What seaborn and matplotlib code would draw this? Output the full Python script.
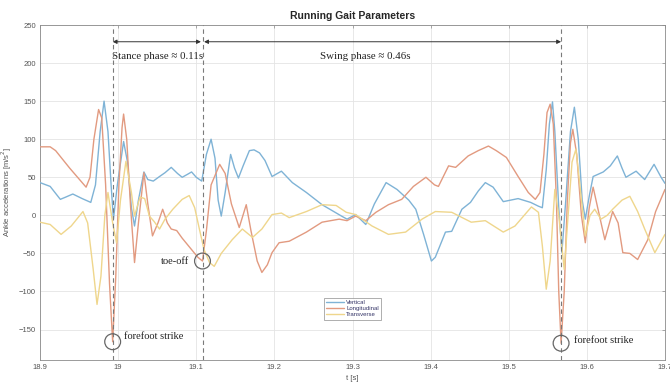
import numpy as np
import pandas as pd
import matplotlib
matplotlib.use("Agg")
import matplotlib.pyplot as plt
import seaborn as sns

# ---- ankle acceleration traces (time in s, acceleration in m/s^2) ----
t_vertical = [18.900, 18.913, 18.926, 18.933, 18.942, 18.954, 18.965, 18.971, 18.977, 18.982,
              18.987, 18.991, 18.994, 18.999, 19.007, 19.012, 19.017, 19.021, 19.026, 19.033,
              19.038, 19.045, 19.053, 19.060, 19.068, 19.076, 19.082, 19.089, 19.094, 19.100,
              19.107, 19.113, 19.119, 19.124, 19.128, 19.132, 19.137, 19.144, 19.149, 19.154,
              19.160, 19.168, 19.174, 19.181, 19.188, 19.197, 19.209, 19.223, 19.241, 19.261,
              19.286, 19.293, 19.304, 19.317, 19.328, 19.343, 19.357, 19.372, 19.381, 19.391,
              19.401, 19.406, 19.419, 19.427, 19.440, 19.451, 19.461, 19.470, 19.480, 19.493,
              19.512, 19.528, 19.538, 19.543, 19.548, 19.552, 19.556, 19.559, 19.564, 19.568,
              19.573, 19.579, 19.584, 19.589, 19.594, 19.598, 19.603, 19.608, 19.621, 19.630,
              19.639, 19.645, 19.650, 19.663, 19.674, 19.686, 19.695, 19.700]
a_vertical = [43, 38, 21, 24, 28, 22, 17, 40, 110, 150,
              110, 40, -5, 40, 97, 70, 10, -14, 20, 57,
              47, 45, 51, 56, 63, 55, 50, 54, 57, 50,
              45, 80, 100, 75, 20, -1, 30, 80, 62, 49,
              65, 85, 86, 82, 72, 51, 58, 43, 30, 14,
              -1, -5, 1, -12, 15, 43, 34, 20, 8, -25,
              -60, -55, -22, -21, 8, 17, 32, 43, 37, 18,
              22, 17, 12, 10, 60, 120, 149, 110, 10, -49,
              20, 110, 142, 100, 20, -5, 25, 51, 57, 65,
              78, 62, 50, 58, 47, 67, 50, 42]

t_longitudinal = [18.900, 18.913, 18.920, 18.938, 18.959, 18.964, 18.969, 18.975, 18.979, 18.984,
                  18.989, 18.993, 18.997, 19.001, 19.005, 19.007, 19.011, 19.016, 19.021, 19.026,
                  19.033, 19.038, 19.044, 19.051, 19.057, 19.063, 19.068, 19.075, 19.082, 19.094,
                  19.102, 19.108, 19.113, 19.119, 19.130, 19.137, 19.145, 19.155, 19.164, 19.170,
                  19.178, 19.184, 19.191, 19.197, 19.206, 19.219, 19.241, 19.261, 19.283, 19.293,
                  19.304, 19.317, 19.330, 19.346, 19.363, 19.378, 19.394, 19.405, 19.410, 19.423,
                  19.432, 19.448, 19.461, 19.474, 19.484, 19.497, 19.512, 19.525, 19.534, 19.540,
                  19.545, 19.549, 19.553, 19.557, 19.561, 19.564, 19.567, 19.571, 19.575, 19.579,
                  19.582, 19.587, 19.593, 19.598, 19.603, 19.608, 19.616, 19.623, 19.633, 19.640,
                  19.646, 19.655, 19.665, 19.678, 19.688, 19.700]
a_longitudinal = [90, 90, 85, 62, 37, 50, 100, 139, 128, 40,
                  -90, -166, -80, 40, 115, 133, 100, 10, -62, -10,
                  56, 15, -27, -10, 8, -10, -18, -20, -30, -45,
                  -55, -60, -20, 40, 67, 55, 15, -16, 14, -20,
                  -60, -75, -65, -49, -36, -34, -22, -9, -5, -7,
                  -1, -7, 4, 14, 21, 38, 50, 40, 38, 65,
                  63, 78, 85, 91, 85, 76, 51, 30, 21, 30,
                  80, 135, 146, 120, 20, -100, -168, -100, 20, 95,
                  113, 80, 0, -36, 10, 37, 0, -32, 5, -10,
                  -49, -50, -58, -32, 5, 34]

t_transverse = [18.900, 18.913, 18.927, 18.940, 18.955, 18.961, 18.968, 18.973, 18.978, 18.983,
                18.987, 18.993, 18.998, 19.003, 19.010, 19.017, 19.021, 19.028, 19.034, 19.040,
                19.046, 19.053, 19.060, 19.070, 19.082, 19.091, 19.098, 19.104, 19.110, 19.117,
                19.123, 19.132, 19.146, 19.159, 19.172, 19.184, 19.197, 19.209, 19.219, 19.241,
                19.261, 19.279, 19.292, 19.304, 19.325, 19.346, 19.368, 19.389, 19.406, 19.427,
                19.452, 19.470, 19.493, 19.508, 19.529, 19.538, 19.543, 19.548, 19.553, 19.559,
                19.564, 19.571, 19.576, 19.581, 19.586, 19.591, 19.598, 19.604, 19.610, 19.618,
                19.626, 19.633, 19.645, 19.655, 19.665, 19.674, 19.687, 19.700]
a_transverse = [-9, -12, -25, -14, 5, -10, -70, -117, -80, 0,
                30, -10, -36, 20, 71, 30, -1, 24, 22, -1,
                -8, -18, -5, 8, 21, 26, 10, -18, -45, -62,
                -67, -50, -32, -18, -29, -18, 1, 3, -3, 5,
                14, 13, 4, 1, -14, -25, -22, -5, 5, 4,
                -9, -7, -22, -14, 11, 4, -40, -97, -60, 34,
                0, -71, 0, 70, 87, 40, -27, 0, 8, -5,
                0, 8, 20, 25, 5, -18, -49, -25]

series_names = ["Vertical", "Longitudinal", "Transverse"]
series_colors = ["#7fb3d6", "#e29a80", "#efd68c"]

# gait events (s)
forefoot_strike_times = [18.993, 19.567]
toe_off_time = 19.108
stance_label = "Stance phase \u2248 0.11s"
swing_label = "Swing phase \u2248 0.46s"

x_ticks = [18.9, 19.0, 19.1, 19.2, 19.3, 19.4, 19.5, 19.6, 19.7]
x_tick_labels = ["18.9", "19", "19.1", "19.2", "19.3", "19.4", "19.5", "19.6", "19.7"]
y_ticks = [-150, -100, -50, 0, 50, 100, 150, 200, 250]

df = pd.concat([
    pd.DataFrame({"t": t_vertical, "a": a_vertical, "series": "Vertical"}),
    pd.DataFrame({"t": t_longitudinal, "a": a_longitudinal, "series": "Longitudinal"}),
    pd.DataFrame({"t": t_transverse, "a": a_transverse, "series": "Transverse"}),
], ignore_index=True)

sns.set_style("white")
plt.rcParams["font.family"] = ["Liberation Sans", "DejaVu Sans"]

fig = plt.figure(figsize=(6.7, 3.88), dpi=100)
ax = fig.add_axes([40 / 670, 28 / 388, 625 / 670, 335 / 388])

sns.lineplot(data=df, x="t", y="a", hue="series", hue_order=series_names,
             palette=dict(zip(series_names, series_colors)), estimator=None,
             linewidth=1.0, ax=ax, legend=True, zorder=3)

ax.set_xlim(18.9, 19.7)
ax.set_ylim(-190, 250)
ax.set_xticks(x_ticks)
ax.set_xticklabels(x_tick_labels)
ax.set_yticks(y_ticks)
ax.grid(True, color="#e4e4e4", linewidth=0.6, zorder=0)
ax.set_axisbelow(True)
for s in ax.spines.values():
    s.set_visible(True)
    s.set_color("#8a8a8a")
    s.set_linewidth(0.6)
ax.tick_params(direction="in", length=2.5, width=0.5, color="#8a8a8a",
               labelsize=5.5, labelcolor="#555555", top=True, right=True, pad=3)

ax.set_xlabel("t [s]", fontsize=5.5, color="#555555", labelpad=3)
ax.set_ylabel("Ankle accelerations [m/s$^2$]", fontsize=5.5, color="#555555")
ax.yaxis.set_label_coords(-0.041, 0.5)
ax.set_title("Running Gait Parameters", fontsize=7.5, fontweight="bold", pad=4)

# event markers
for tv in forefoot_strike_times + [toe_off_time]:
    ax.axvline(tv, color="#7a7a7a", linestyle=(0, (4, 3)), linewidth=0.8, zorder=4)

serif = ["Liberation Serif", "DejaVu Serif"]
arrow_y = 228
ax.annotate("", xy=(forefoot_strike_times[0], arrow_y), xytext=(toe_off_time - 0.002, arrow_y),
            arrowprops=dict(arrowstyle="<|-|>", color="#333333", lw=0.7, mutation_scale=6,
                            shrinkA=0, shrinkB=0))
ax.annotate("", xy=(toe_off_time + 0.002, arrow_y), xytext=(forefoot_strike_times[1], arrow_y),
            arrowprops=dict(arrowstyle="<|-|>", color="#333333", lw=0.7, mutation_scale=6,
                            shrinkA=0, shrinkB=0))
ax.text((forefoot_strike_times[0] + toe_off_time) / 2, 209, stance_label,
        family=serif, fontsize=7.8, ha="center", va="center", color="#222222")
ax.text(19.316, 209, swing_label,
        family=serif, fontsize=7.8, ha="center", va="center", color="#222222")

# circled events on the longitudinal trace
ev_t = forefoot_strike_times + [toe_off_time]
ev_a = [min(a for tt, a in zip(t_longitudinal, a_longitudinal) if abs(tt - e) < 0.004) for e in ev_t]
ax.scatter(ev_t, ev_a, s=130, facecolors="none", edgecolors="#666666", linewidths=0.9, zorder=5)

ax.text(forefoot_strike_times[0] + 0.014, ev_a[0] + 7, "forefoot strike",
        family=serif, fontsize=7.5, ha="left", va="center", color="#222222")
ax.text(forefoot_strike_times[1] + 0.017, ev_a[1] + 4, "forefoot strike",
        family=serif, fontsize=7.5, ha="left", va="center", color="#222222")
ax.text(toe_off_time - 0.017, ev_a[2], "toe-off",
        family=serif, fontsize=7.5, ha="right", va="center", color="#222222")

handles, labels = ax.get_legend_handles_labels()
leg = ax.legend(handles, labels, loc="upper left", bbox_to_anchor=(0.4544, 0.185),
                fontsize=4.3, frameon=True, fancybox=False, edgecolor="#8a8a8a",
                handlelength=3.0, handletextpad=0.4, borderpad=0.35, labelspacing=0.15,
                borderaxespad=0)
leg.get_frame().set_linewidth(0.6)
for txt in leg.get_texts():
    txt.set_color("#333366")

fig.savefig("out.png", dpi=100, facecolor="white")
